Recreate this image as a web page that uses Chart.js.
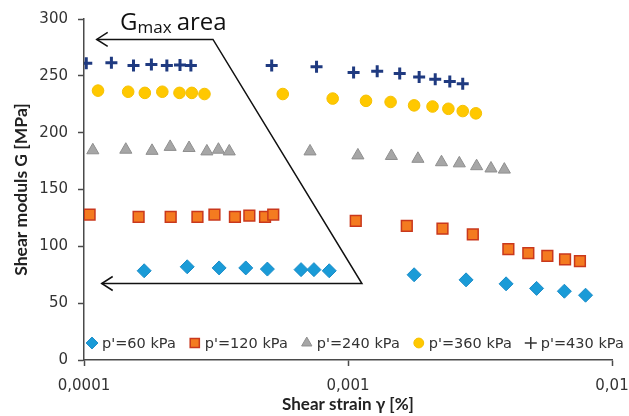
<!DOCTYPE html>
<html>
<head>
<meta charset="utf-8">
<script src="https://cdn.jsdelivr.net/npm/chart.js@4/dist/chart.umd.min.js"></script>
<style>
  html, body { margin: 0; padding: 0; background: #fff; }
  #wrap { width: 629px; height: 416px; position: relative; }
</style>
</head>
<body>
<div id="wrap"><canvas id="gChart"></canvas></div>
<script>
// shear strain [%] and shear modulus G [MPa] for each confining pressure
const strain60 = [1.69e-4, 2.46e-4, 3.25e-4, 4.10e-4, 4.95e-4, 6.64e-4, 7.43e-4, 8.49e-4, 1.78e-3, 2.80e-3, 3.97e-3, 5.18e-3, 6.60e-3, 7.94e-3];
const modulus60 = [78.5, 82, 81, 81, 80, 79.5, 79.5, 78.5, 75, 70.5, 67, 63, 60.5, 57];

const strain120 = [1.05e-4, 1.61e-4, 2.13e-4, 2.69e-4, 3.12e-4, 3.73e-4, 4.23e-4, 4.85e-4, 5.21e-4, 1.07e-3, 1.67e-3, 2.28e-3, 2.97e-3, 4.05e-3, 4.82e-3, 5.69e-3, 6.64e-3, 7.56e-3];
const modulus120 = [128, 126, 126, 126, 128, 126, 127, 126, 128, 122.5, 118, 115.5, 110.5, 97.5, 94, 91.5, 88.5, 87];

const strain240 = [1.08e-4, 1.44e-4, 1.81e-4, 2.12e-4, 2.50e-4, 2.92e-4, 3.23e-4, 3.55e-4, 7.18e-4, 1.09e-3, 1.46e-3, 1.84e-3, 2.26e-3, 2.64e-3, 3.07e-3, 3.48e-3, 3.91e-3];
const modulus240 = [184.5, 185, 184, 187.5, 186.5, 183.5, 185, 183.5, 183.5, 180, 179.5, 177, 174, 173, 170.5, 168.5, 167.5];

const strain360 = [1.13e-4, 1.47e-4, 1.70e-4, 1.98e-4, 2.30e-4, 2.56e-4, 2.86e-4, 5.66e-4, 8.75e-4, 1.17e-3, 1.45e-3, 1.78e-3, 2.09e-3, 2.40e-3, 2.72e-3, 3.05e-3];
const modulus360 = [237, 236, 235, 236, 235, 235, 234, 234, 230, 228, 227, 224, 223, 221, 219, 217];

const strain430 = [1.02e-4, 1.27e-4, 1.54e-4, 1.80e-4, 2.06e-4, 2.31e-4, 2.54e-4, 5.14e-4, 7.6e-4, 1.05e-3, 1.29e-3, 1.57e-3, 1.86e-3, 2.14e-3, 2.43e-3, 2.72e-3];
const modulus430 = [261, 261.5, 259, 260, 259, 259.5, 259, 259, 258, 253, 254, 252, 249, 247, 245, 243];

const seriesLabels = ["p'=60 kPa", "p'=120 kPa", "p'=240 kPa", "p'=360 kPa", "p'=430 kPa"];
const xTickValues = [0.0001, 0.001, 0.01];
const yTickStep = 50;

// outline of the Gmax area callout, in data units
const calloutTop = { tipX: 1.117e-4, cornerX: 3.08e-4, y: 282 };
const calloutBottom = { tipX: 1.167e-4, cornerX: 1.129e-3, y: 67.3 };
const calloutText = { x: 1.37e-4, y: 290 };

const axisColor = "#4a4a4a";
const tickFont = { family: "DejaVu Sans", size: 15 };

function toPoints(xs, ys) {
  return xs.map((x, i) => ({ x: x, y: ys[i] }));
}

const datasets = [
  { label: seriesLabels[0], data: toPoints(strain60, modulus60), pointStyle: "rectRot",
    pointRadius: 7, backgroundColor: "#1a9bd7", borderColor: "#1a8cc8", borderWidth: 1 },
  { label: seriesLabels[1], data: toPoints(strain120, modulus120), pointStyle: "rect",
    pointRadius: 7.6, backgroundColor: "#f47b20", borderColor: "#c9381c", borderWidth: 1.5 },
  { label: seriesLabels[2], data: toPoints(strain240, modulus240), pointStyle: "triangle",
    pointRadius: 7, backgroundColor: "#a6a6a6", borderColor: "#8f8f8f", borderWidth: 1 },
  { label: seriesLabels[3], data: toPoints(strain360, modulus360), pointStyle: "circle",
    pointRadius: 5.8, backgroundColor: "#ffc800", borderColor: "#f5c000", borderWidth: 1 },
  { label: seriesLabels[4], data: toPoints(strain430, modulus430), pointStyle: "cross",
    pointRadius: 6, backgroundColor: "#1f3a80", borderColor: "#1f3a80", borderWidth: 3 }
];

// legend row drawn inside the plot, near the bottom
const insideLegend = {
  id: "insideLegend",
  afterDatasetsDraw(chart) {
    const ctx = chart.ctx;
    const area = chart.chartArea;
    const y = area.bottom - 17;
    let x = area.left + 8;
    ctx.save();
    ctx.font = "14.5px 'DejaVu Sans'";
    ctx.textBaseline = "middle";
    chart.data.datasets.forEach((ds) => {
      const small = ds.pointStyle === "cross"
        ? { pointStyle: "cross", radius: 6, borderWidth: 1.5 }
        : { pointStyle: ds.pointStyle, radius: ds.pointRadius * 0.85, borderWidth: ds.borderWidth };
      ctx.fillStyle = ds.backgroundColor;
      ctx.strokeStyle = ds.pointStyle === "cross" ? "#333" : ds.borderColor;
      ctx.lineWidth = small.borderWidth;
      Chart.helpers.drawPoint(ctx, small, x, y);
      ctx.fillStyle = "#333";
      ctx.fillText(ds.label, x + 10, y + 1);
      x += 10 + ctx.measureText(ds.label).width + 19;
    });
    ctx.restore();
  }
};

// open chevron arrowhead pointing left
function arrowHead(ctx, x, y) {
  ctx.beginPath();
  ctx.moveTo(x + 11, y - 7);
  ctx.lineTo(x, y);
  ctx.lineTo(x + 11, y + 7);
  ctx.stroke();
}

const gmaxCallout = {
  id: "gmaxCallout",
  afterDraw(chart) {
    const ctx = chart.ctx;
    const xs = chart.scales.x;
    const ys = chart.scales.y;
    const topTip = xs.getPixelForValue(calloutTop.tipX);
    const topCorner = xs.getPixelForValue(calloutTop.cornerX);
    const topY = ys.getPixelForValue(calloutTop.y);
    const botTip = xs.getPixelForValue(calloutBottom.tipX);
    const botCorner = xs.getPixelForValue(calloutBottom.cornerX);
    const botY = ys.getPixelForValue(calloutBottom.y);

    ctx.save();
    ctx.strokeStyle = "#111";
    ctx.lineWidth = 1.5;
    ctx.beginPath();
    ctx.moveTo(topTip, topY);
    ctx.lineTo(topCorner, topY);
    ctx.lineTo(botCorner, botY);
    ctx.lineTo(botTip, botY);
    ctx.stroke();
    arrowHead(ctx, topTip, topY);
    arrowHead(ctx, botTip, botY);

    // "Gmax area" with subscript
    const tx = xs.getPixelForValue(calloutText.x);
    const ty = ys.getPixelForValue(calloutText.y);
    ctx.fillStyle = "#111";
    ctx.textBaseline = "alphabetic";
    ctx.font = "24px 'Open Sans'";
    ctx.fillText("G", tx, ty);
    let cx = tx + ctx.measureText("G").width;
    ctx.font = "17px 'Open Sans'";
    ctx.fillText("max", cx, ty + 3);
    cx += ctx.measureText("max").width + 5;
    ctx.font = "24px 'Open Sans'";
    ctx.fillText("area", cx, ty);
    ctx.restore();
  }
};

new Chart(document.getElementById("gChart").getContext("2d"), {
  type: "scatter",
  data: { datasets: datasets },
  plugins: [insideLegend, gmaxCallout],
  options: {
    responsive: true,
    maintainAspectRatio: false,
    animation: false,
    layout: { padding: { top: 17, right: 0, left: 0, bottom: 0 } },
    plugins: {
      legend: { display: false },
      tooltip: { enabled: false }
    },
    scales: {
      x: {
        type: "logarithmic",
        min: 0.0001,
        max: 0.01,
        afterBuildTicks(scale) {
          scale.ticks = xTickValues.map((v) => ({ value: v, major: true }));
        },
        afterFit(scale) {
          scale.height = 56;
          scale.paddingLeft = 0;
          scale.paddingRight = 17;
        },
        ticks: {
          font: tickFont,
          color: "#333",
          padding: 11,
          autoSkip: false,
          maxRotation: 0,
          callback: (v) => String(v).replace(".", ",")
        },
        grid: { drawOnChartArea: false, drawTicks: true, tickLength: 6, tickColor: axisColor, tickWidth: 1.5 },
        border: { color: axisColor, width: 1.5 },
        title: {
          display: true,
          text: "Shear strain γ [%]",
          font: { family: "Lato", weight: "bold", size: 17 },
          color: "#222",
          padding: { top: 0, bottom: 1 }
        }
      },
      y: {
        min: 0,
        max: 300,
        afterFit(scale) { scale.width = 84; },
        ticks: { stepSize: yTickStep, font: tickFont, color: "#333", padding: 10 },
        grid: { drawOnChartArea: false, drawTicks: true, tickLength: 6, tickColor: axisColor, tickWidth: 1.5 },
        border: { color: axisColor, width: 1.5 },
        title: {
          display: true,
          text: "Shear moduls G [MPa]",
          font: { family: "Lato", weight: "bold", size: 17.5 },
          color: "#222",
          padding: { top: 11, bottom: 0 }
        }
      }
    }
  }
});
</script>
</body>
</html>
